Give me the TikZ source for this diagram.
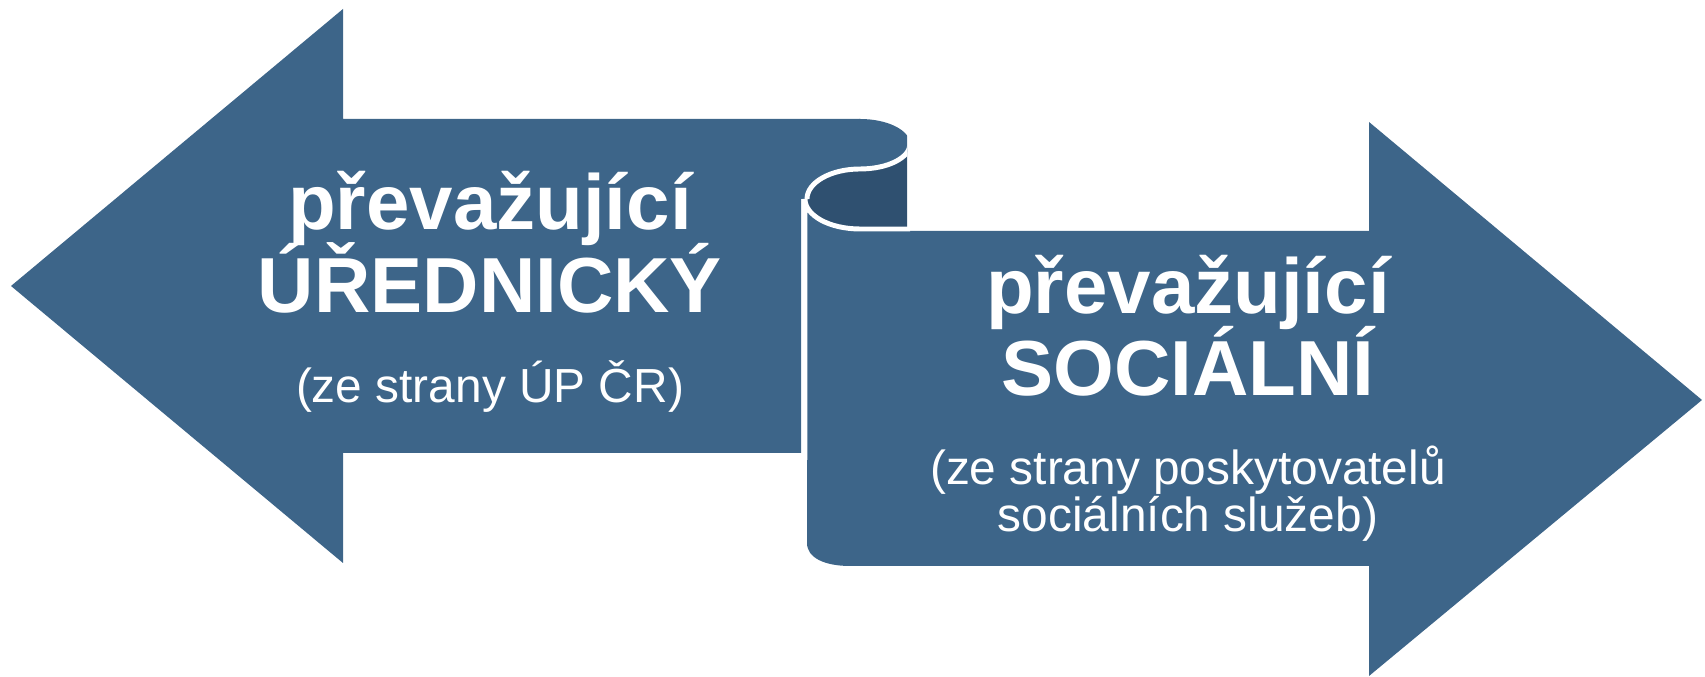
\documentclass[tikz,border=0pt]{standalone}
\usepackage{fontspec}
\setmainfont{Liberation Sans}
\definecolor{arrowblue}{RGB}{61,101,137}
\definecolor{rolldark}{RGB}{47,80,112}

\begin{document}
\begin{tikzpicture}[x=0.01cm, y=-0.01cm,
    headtext/.style={text=white, inner sep=0pt, anchor=base, font=\fontsize{22.2}{24}\selectfont\bfseries},
    notetext/.style={text=white, inner sep=0pt, anchor=base, font=\fontsize{13.6}{15}\selectfont},
    edge/.style={draw=white, line width=1.4pt}]

  \useasboundingbox (0,0) rectangle (1705,677);

  % 1. Leva sipka (az k roli svitku)
  \fill[arrowblue] (11,286) -- (343,9) -- (343,119) -- (860,119) -- (860,199)
      -- (801,199) -- (801,453) -- (343,453) -- (343,563) -- cycle;

  % 2. Stocena role svitku, oriznuta vpravo
  \begin{scope}
    \clip (700,100) rectangle (907,240);
    \fill[rolldark] (860,169) arc[start angle=270, end angle=90, x radius=53, y radius=30]
        -- (920,229) -- (920,144) -- cycle;
    \fill[arrowblue] (860,144) ellipse [x radius=50, y radius=25];
    \draw[edge] (910,144) arc[start angle=0, end angle=90, x radius=50, y radius=25]
        arc[start angle=270, end angle=180, x radius=53, y radius=30];
  \end{scope}

  % 3. Prava sipka
  \fill[arrowblue] (860,231) -- (1369,231) -- (1369,122) -- (1702,400)
      -- (1369,676) -- (1369,566) -- (850,566) .. controls (825,566) and (807,558) .. (807,543)
      -- (807,199) arc[start angle=180, end angle=90, x radius=53, y radius=32] -- cycle;
  \draw[edge] (805,460) -- (805,199) arc[start angle=180, end angle=90, x radius=55, y radius=30]
      -- (910,229);

  % texty
  \node[headtext] (lefttop)  at (490,230) {převažující};
  \node[headtext] (leftmain) at (490,313) {ÚŘEDNICKÝ};
  \node[notetext] (leftnote) at (490,403) {(ze strany ÚP ČR)};

  \node[headtext] (righttop)   at (1188,314) {převažující};
  \node[headtext] (rightmain)  at (1188,396) {SOCIÁLNÍ};
  \node[notetext] (rightnotea) at (1188,485) {(ze strany poskytovatelů};
  \node[notetext] (rightnoteb) at (1188,532) {sociálních služeb)};

\end{tikzpicture}
\end{document}
